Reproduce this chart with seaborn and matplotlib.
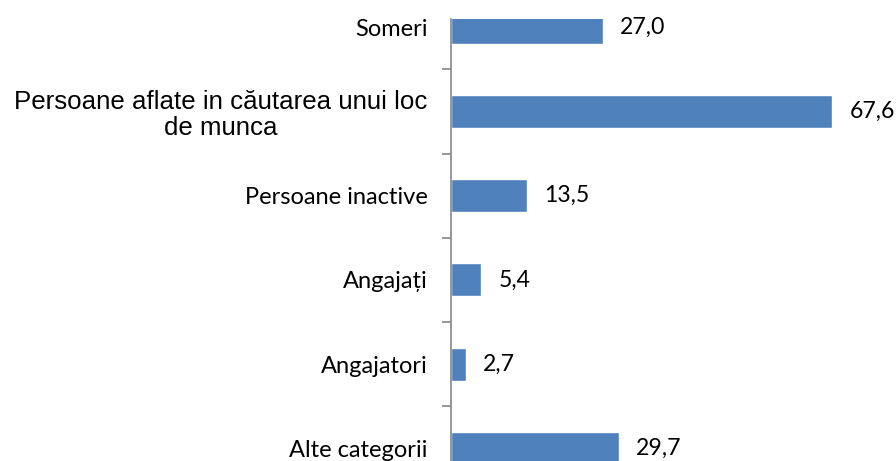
import matplotlib
matplotlib.use("Agg")
import matplotlib.pyplot as plt
import seaborn as sns
import pandas as pd

# chart data
categories = ["Someri", "Persoane aflate in căutarea unui loc\nde munca", "Persoane inactive",
              "Angajați", "Angajatori", "Alte categorii"]
values = [27.0, 67.6, 13.5, 5.4, 2.7, 29.7]
value_labels = ["27,0", "67,6", "13,5", "5,4", "2,7", "29,7"]

df = pd.DataFrame({"categorie": categories, "valoare": values})

sns.set_theme(style="white")
plt.rcParams['font.family'] = ['Lato', 'DejaVu Sans']

fig = plt.figure(figsize=(8.96, 4.61), dpi=100)
ax = fig.add_axes([451 / 896, 0, 1 - 451 / 896, (461 - 19) / 461])

sns.barplot(data=df, x="valoare", y="categorie", orient="h", color="#4F81BD",
            width=0.39, saturation=1, ax=ax)

ax.set_xlim(0, (896 - 451) / 5.64)
ax.set_ylim(5.151, -0.099)

# value labels
for i, (v, lab) in enumerate(zip(values, value_labels)):
    ax.text(v + 17 / 5.64, i, lab, va="center", ha="left", fontsize=16.6, color="black")

# axis styling
for s in ["top", "right", "bottom"]:
    ax.spines[s].set_visible(False)
ax.spines["left"].set_color("#868686")
ax.spines["left"].set_linewidth(1.2)
ax.set_xticks([])
ax.set_xlabel("")
ax.set_ylabel("")

# tick marks between categories, labels at category centres
ax.set_yticks([i + 0.5 for i in range(len(categories) - 1)], minor=False)
ax.set_yticklabels([])
ax.tick_params(axis="y", which="major", length=6.5, width=1.2, color="#868686", left=True, direction="out")
ax.set_yticks(range(len(categories)), minor=True)
ax.set_yticklabels(categories, minor=True)
ax.tick_params(axis="y", which="minor", length=0, pad=17)
for i, t in enumerate(ax.get_yticklabels(minor=True)):
    if i == 1:
        t.set_fontfamily(['Liberation Sans', 'DejaVu Sans'])
        t.set_fontsize(18.6)
        t.set_multialignment("center")
        t.set_linespacing(1.1)
    else:
        t.set_fontsize(17)
    t.set_color("black")

fig.savefig("out.png", dpi=100)
